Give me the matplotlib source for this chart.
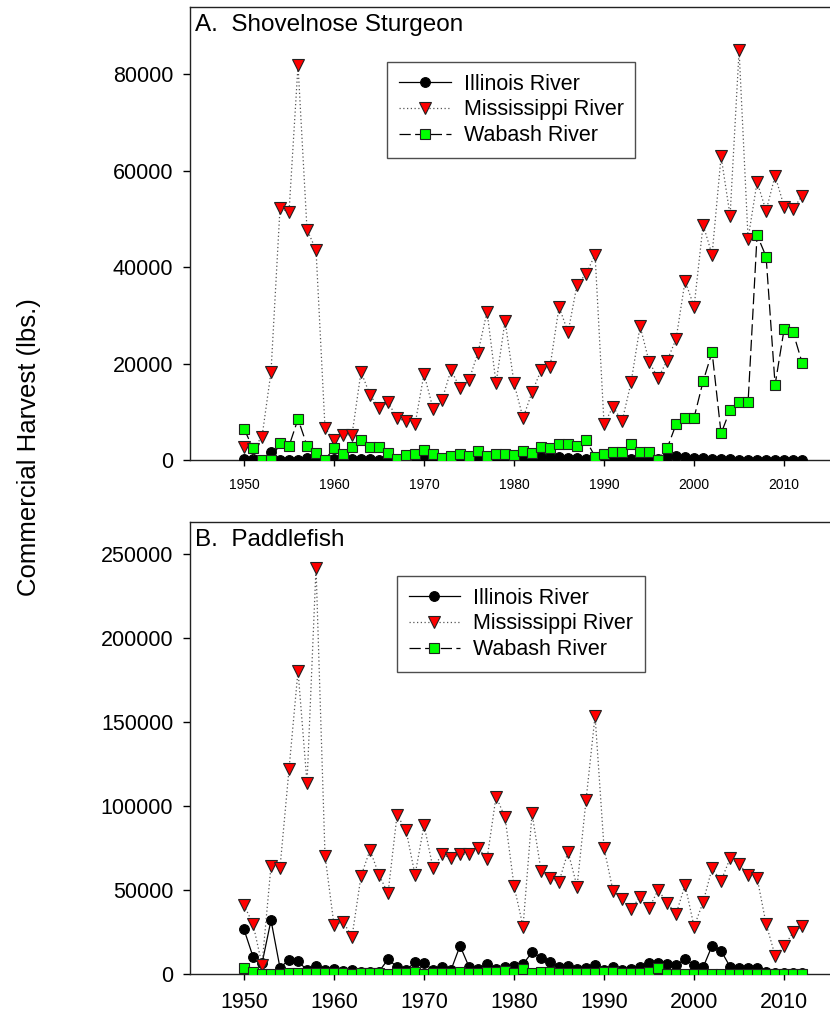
import matplotlib
matplotlib.use("Agg")
import matplotlib.pyplot as plt
import numpy as np

plt.rcParams['font.family'] = ['Liberation Sans', 'DejaVu Sans']

years = list(range(1950, 2013))

# Panel A: Shovelnose Sturgeon
sturgeon_illinois = [200, 300, 100, 1700, 100, 100, 100, 500, 300, 100,
                     200, 200, 200, 200, 200, 100, 100, 300, 200, 200,
                     200, 200, 300, 200, 300, 300, 300, 400, 300, 400,
                     500, 500, 600, 600, 700, 600, 500, 400, 300, 400,
                     300, 300, 300, 200, 300, 200, 300, 600, 800, 700,
                     500, 400, 300, 200, 200, 100, 100, 100, 100, 100,
                     100, 100, 100]
sturgeon_mississippi = [2700, 2300, 4800, 18300, 52300, 51400, 81900, 47800, 43600, 6600,
                        4150, 5200, 5250, 18300, 13500, 10700, 12000, 8700, 8000, 7400,
                        17900, 10600, 12500, 18700, 14900, 16600, 22300, 30800, 15900, 28900,
                        15900, 8700, 14100, 18600, 19400, 31800, 26500, 36400, 38600, 42600,
                        7400, 11100, 8000, 16100, 27800, 20400, 17000, 20600, 25100, 37200,
                        31800, 48800, 42600, 63000, 50700, 85000, 45900, 57700, 51700, 59000,
                        52600, 52100, 54800]
sturgeon_wabash = [6500, 2400, 0, 0, 3500, 2900, 8500, 3000, 1500, 100,
                   2400, 1250, 2700, 4200, 2700, 2700, 1500, 150, 1000, 1200,
                   2000, 1200, 450, 750, 1200, 850, 1950, 900, 1250, 1300,
                   1050, 1900, 1500, 2700, 2400, 3300, 3300, 3000, 4100, 700,
                   1200, 1750, 1600, 3250, 1600, 1600, 0, 2400, 7400, 8800,
                   8800, 16300, 22400, 5500, 10400, 12000, 12000, 46700, 42200, 15600,
                   27100, 26500, 20200]

# Panel B: Paddlefish
paddle_illinois = [26500, 10300, 6300, 32000, 3600, 8600, 7500, 2400, 4900, 2400,
                   3000, 2000, 2400, 1400, 1400, 1400, 8800, 4200, 2400, 6900,
                   6400, 2400, 3900, 2400, 16800, 4200, 2800, 6200, 2800, 3900,
                   4800, 5900, 12900, 9800, 7300, 4000, 5000, 2800, 3400, 5500,
                   2400, 4000, 2400, 2800, 4400, 6300, 6300, 5900, 5300, 8800,
                   5300, 3900, 16800, 13800, 4300, 3400, 3400, 3400, 1000, 800,
                   800, 800, 800]
paddle_mississippi = [41000, 29800, 5400, 64500, 63300, 121800, 180500, 113500, 241900, 70400,
                      29200, 31100, 22200, 58300, 73800, 58900, 48000, 94600, 85700, 58900,
                      88700, 62900, 71200, 68900, 71200, 71200, 75200, 68500, 105600, 93300,
                      52400, 28200, 95600, 61300, 56900, 55000, 72800, 52000, 103600, 153600,
                      74800, 49400, 44400, 38500, 46000, 39100, 50000, 42500, 35700, 53000,
                      28200, 42700, 62900, 55400, 68900, 65500, 58900, 57300, 29800, 11000,
                      16500, 24700, 28400]
paddle_wabash = [3800, 1000, 0, 0, 0, 400, 800, 400, 400, 800,
                 400, 400, 0, 400, 400, 800, 0, 400, 800, 1000,
                 0, 400, 400, 800, 1400, 400, 400, 1000, 1000, 2000,
                 400, 2800, 400, 1000, 1000, 400, 400, 800, 800, 800,
                 1400, 1000, 800, 400, 400, 1000, 3800, 0, 0, 0,
                 0, 0, 0, 0, 0, 0, 0, 0, 0, 0,
                 0, 0, 0]

series_labels = ["Illinois River", "Mississippi River", "Wabash River"]
xticks = [1950, 1960, 1970, 1980, 1990, 2000, 2010]
yticks_a = [0, 20000, 40000, 60000, 80000]
yticks_b = [0, 50000, 100000, 150000, 200000, 250000]

W, H = 830, 1014
fig = plt.figure(figsize=(W / 100, H / 100), dpi=100)

ax_a = fig.add_axes([190 / W, 1 - 460 / H, 1 - 190 / W, (460 - 7) / H])
ax_b = fig.add_axes([190 / W, 1 - 974 / H, 1 - 190 / W, (974 - 522) / H])


def draw(ax, ill, mis, wab, yticks, ymax, title, xtick_fs, xpad, legend_anchor):
    ax.plot(years, ill, color='black', lw=0.9, marker='o', ms=7,
            mfc='black', mec='black', mew=0.8, label=series_labels[0], zorder=3)
    ax.plot(years, mis, color='#555555', lw=0.9, ls=(0, (1, 2)), marker='v', ms=8,
            mfc='#ff0000', mec='#222222', mew=0.8, label=series_labels[1], zorder=4)
    ax.plot(years, wab, color='black', lw=0.9, ls=(0, (9, 3.5)), marker='s', ms=6.8,
            mfc='#00ff00', mec='#222222', mew=0.8, label=series_labels[2], zorder=5)
    ax.set_xlim(1944, 2015.1)
    ax.set_ylim(0, ymax)
    ax.set_xticks(xticks)
    ax.set_yticks(yticks)
    ax.set_yticklabels([str(v) for v in yticks])
    ax.spines['right'].set_visible(False)
    for s in ['left', 'top', 'bottom']:
        ax.spines[s].set_linewidth(1.0)
        ax.spines[s].set_color('#222222')
    ax.tick_params(axis='y', direction='out', length=5, width=1, labelsize=15.5, pad=7)
    ax.tick_params(axis='x', direction='out', length=4, width=1, labelsize=xtick_fs, pad=xpad)
    ax.text(0.008, 0.985, title, transform=ax.transAxes, ha='left', va='top', fontsize=17.5)
    leg = ax.legend(loc='upper left', bbox_to_anchor=legend_anchor, frameon=True,
                    fancybox=False, shadow=False, fontsize=15.5, handlelength=2.4,
                    handletextpad=0.6, labelspacing=0.22, borderpad=0.55,
                    borderaxespad=0, numpoints=1)
    leg.get_frame().set_edgecolor('#222222')
    leg.get_frame().set_linewidth(1.0)


draw(ax_a, sturgeon_illinois, sturgeon_mississippi, sturgeon_wabash, yticks_a, 94000,
     "A.  Shovelnose Sturgeon", 10, 9, (0.308, 0.879))
draw(ax_b, paddle_illinois, paddle_mississippi, paddle_wabash, yticks_b, 269000,
     "B.  Paddlefish", 15.5, 9, (0.323, 0.881))

fig.text(29 / W, 1 - 447 / H, "Commercial Harvest (lbs.)", rotation=90,
         ha='center', va='center', fontsize=18.5)

fig.savefig("out.png", dpi=100)
